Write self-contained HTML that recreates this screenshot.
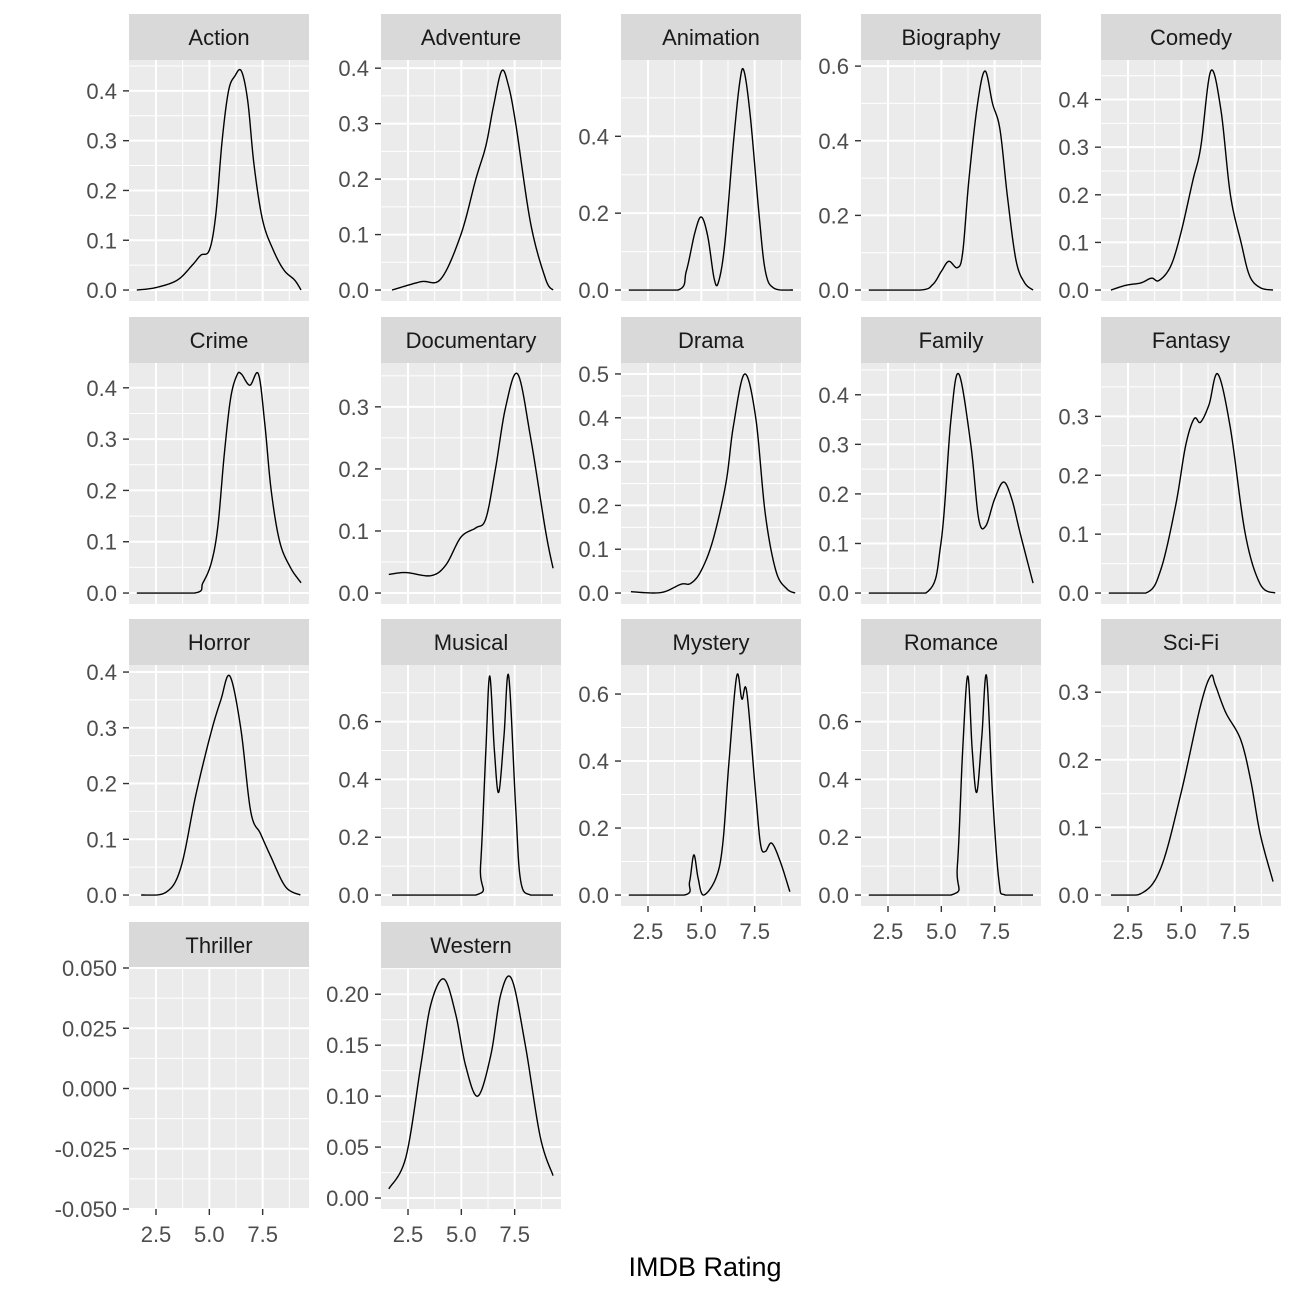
<!DOCTYPE html>
<html><head><meta charset="utf-8"><style>
html,body{margin:0;padding:0;background:#fff;}
svg{display:block;font-family:"Liberation Sans",Arial,sans-serif;}
</style></head><body>
<svg id="chart" width="1296" height="1296" viewBox="0 0 1296 1296" xmlns="http://www.w3.org/2000/svg">
<rect x="0" y="0" width="1296" height="1296" fill="#fff"/>
<text x="705" y="1276" font-size="27" fill="#000" text-anchor="middle">IMDB Rating</text>
</svg>
<script>
const genres = ["Action","Adventure","Animation","Biography","Comedy","Crime","Documentary","Drama","Family","Fantasy","Horror","Musical","Mystery","Romance","Sci-Fi","Thriller","Western"];
const actionX=[1.6,2.5,3.5,4.2,4.6,5.0,5.3,5.6,5.9,6.2,6.5,6.8,7.1,7.5,8.0,8.5,9.0,9.3];
const actionY=[0,0.005,0.02,0.05,0.07,0.08,0.15,0.3,0.4,0.43,0.44,0.38,0.25,0.14,0.08,0.04,0.02,0];
const adventureX=[1.75,3.1,4.04,4.98,5.68,6.15,6.5,6.89,7.2,7.55,8.25,8.95,9.3];
const adventureY=[0,0.015,0.02,0.1,0.2,0.26,0.33,0.395,0.37,0.3,0.12,0.02,0];
const animationX=[1.6,3.9,4.3,4.7,5.0,5.3,5.6,5.8,6.1,6.5,6.8,7.0,7.3,7.7,8.0,8.4,9.3];
const animationY=[0,0,0.05,0.15,0.19,0.14,0.03,0.02,0.12,0.38,0.54,0.57,0.45,0.2,0.05,0.005,0];
const biographyX=[1.6,4.0,4.6,5.0,5.35,5.75,6.0,6.3,6.7,7.05,7.4,7.75,8.1,8.5,8.9,9.3];
const biographyY=[0,0,0.015,0.05,0.077,0.06,0.1,0.3,0.5,0.587,0.5,0.43,0.25,0.08,0.02,0];
const comedyX=[1.7,2.4,3.1,3.6,3.95,4.5,4.98,5.54,5.91,6.38,6.85,7.3,7.8,8.2,8.7,9.3];
const comedyY=[0,0.01,0.015,0.025,0.02,0.05,0.12,0.23,0.3,0.46,0.38,0.2,0.1,0.03,0.005,0];
const crimeX=[1.6,4.3,4.7,5.1,5.4,5.7,6.0,6.3,6.5,6.9,7.3,7.6,7.9,8.3,8.8,9.3];
const crimeY=[0,0,0.02,0.06,0.13,0.27,0.38,0.425,0.427,0.405,0.427,0.33,0.2,0.1,0.05,0.02];
const documentaryX=[1.6,2.4,3.57,4.27,4.98,5.68,6.15,6.6,7.08,7.64,8.25,8.95,9.3];
const documentaryY=[0.03,0.033,0.028,0.045,0.09,0.105,0.12,0.2,0.3,0.353,0.25,0.1,0.04];
const dramaX=[1.7,3.1,4.04,4.5,4.98,5.54,6.15,6.5,7.03,7.55,8.0,8.5,9.0,9.4];
const dramaY=[0.003,0.001,0.02,0.022,0.05,0.12,0.25,0.38,0.5,0.4,0.18,0.05,0.01,0];
const familyX=[1.6,4.27,4.98,5.45,5.82,6.38,6.75,7.08,7.5,7.92,8.3,8.7,9.3];
const familyY=[0,0,0.1,0.35,0.442,0.3,0.15,0.135,0.19,0.224,0.19,0.12,0.02];
const fantasyX=[1.6,3.34,4.04,4.74,5.2,5.6,5.9,6.3,6.71,7.3,8.0,8.7,9.4];
const fantasyY=[0,0,0.04,0.15,0.25,0.296,0.29,0.32,0.372,0.28,0.1,0.015,0];
const horrorX=[1.8,2.97,3.67,4.37,5.07,5.54,5.96,6.47,6.94,7.4,7.87,8.57,9.27];
const horrorY=[0,0.005,0.05,0.18,0.29,0.35,0.393,0.3,0.15,0.11,0.07,0.015,0];
const musicalX=[1.75,5.68,5.9,6.15,6.33,6.55,6.75,7.0,7.22,7.55,7.78,8.25,9.3];
const musicalY=[0,0,0.1,0.5,0.758,0.5,0.355,0.55,0.758,0.3,0.05,0,0];
const mysteryX=[1.6,4.2,4.45,4.65,4.85,5.1,5.68,6.0,6.3,6.66,6.9,7.13,7.55,7.78,8.0,8.3,8.7,9.15];
const mysteryY=[0,0,0.04,0.12,0.05,0.0,0.05,0.15,0.4,0.654,0.585,0.606,0.3,0.15,0.13,0.155,0.1,0.01];
const romanceX=[1.6,5.45,5.75,6.0,6.24,6.45,6.66,6.9,7.12,7.4,7.7,8.0,9.3];
const romanceY=[0,0,0.1,0.5,0.758,0.5,0.355,0.55,0.758,0.35,0.05,0,0];
const scifiX=[1.7,3.1,4.04,4.98,5.9,6.38,6.6,7.08,7.78,8.25,8.7,9.3];
const scifiY=[0,0.002,0.04,0.15,0.28,0.324,0.31,0.27,0.23,0.17,0.09,0.02];
const thrillerX=[];
const thrillerY=[];
const westernX=[1.6,2.4,3.1,3.57,4.18,4.74,5.2,5.77,6.38,6.85,7.36,8.0,8.7,9.3];
const westernY=[0.009,0.04,0.13,0.19,0.215,0.18,0.13,0.10,0.14,0.2,0.215,0.15,0.06,0.022];
const seriesX=[actionX,adventureX,animationX,biographyX,comedyX,crimeX,documentaryX,dramaX,familyX,fantasyX,horrorX,musicalX,mysteryX,romanceX,scifiX,thrillerX,westernX];
const seriesY=[actionY,adventureY,animationY,biographyY,comedyY,crimeY,documentaryY,dramaY,familyY,fantasyY,horrorY,musicalY,mysteryY,romanceY,scifiY,thrillerY,westernY];
const yTicks=[[0,0.1,0.2,0.3,0.4],[0,0.1,0.2,0.3,0.4],[0,0.2,0.4],[0,0.2,0.4,0.6],[0,0.1,0.2,0.3,0.4],
 [0,0.1,0.2,0.3,0.4],[0,0.1,0.2,0.3],[0,0.1,0.2,0.3,0.4,0.5],[0,0.1,0.2,0.3,0.4],[0,0.1,0.2,0.3],
 [0,0.1,0.2,0.3,0.4],[0,0.2,0.4,0.6],[0,0.2,0.4,0.6],[0,0.2,0.4,0.6],[0,0.1,0.2,0.3],
 [-0.05,-0.025,0,0.025,0.05],[0,0.05,0.1,0.15,0.2]];
const yDecimals=[1,1,1,1,1,1,1,1,1,1,1,1,1,1,1,3,2];
const xTicks=[2.5,5.0,7.5];
const xTickLabels=["2.5","5.0","7.5"];
const xMinor=[3.75,6.25,8.75];

const NS="http://www.w3.org/2000/svg";
const svg=document.getElementById('chart');
const colLeft=[129,381,621,861,1101];
const rowTop=[60,363,665,968];
const PW=180, PH=241, STRIP=46;
const XMIN=1.234, XMAX=XMIN+PW/21.33;
function mk(tag,attrs,parent){const e=document.createElementNS(NS,tag);for(const k in attrs)e.setAttribute(k,attrs[k]);(parent||svg).appendChild(e);return e;}
function smooth(xs,ys){
  const out=[];
  const n=xs.length;
  for(let i=0;i<n-1;i++){
    const i0=Math.max(0,i-1),i3=Math.min(n-1,i+2);
    for(let s=0;s<12;s++){
      const t=s/12,t2=t*t,t3=t2*t;
      const f=(a,b,c,d)=>0.5*((2*b)+(-a+c)*t+(2*a-5*b+4*c-d)*t2+(-a+3*b-3*c+d)*t3);
      out.push([f(xs[i0],xs[i],xs[i+1],xs[i3]),Math.max(0,f(ys[i0],ys[i],ys[i+1],ys[i3]))]);
    }
  }
  out.push([xs[n-1],ys[n-1]]);
  return out;
}
const slug=s=>s.toLowerCase().replace(/[^a-z]/g,'');
genres.forEach((g,i)=>{
  const col=i%5,row=Math.floor(i/5);
  const L=colLeft[col],T=rowTop[row];
  const grp=mk('g',{});
  
  
  const ys=seriesY[i],xs=seriesX[i];
  let ymin,ymax;
  if(ys.length){const m=Math.max(...ys);ymin=-0.05*m;ymax=1.05*m;}else{ymin=-0.05;ymax=0.05;}
  const sx=v=>L+(v-XMIN)/(XMAX-XMIN)*PW;
  const sy=v=>T+PH-(v-ymin)/(ymax-ymin)*PH;
  const st=mk('rect',{x:L,y:T-STRIP,width:PW,height:STRIP,fill:'#d9d9d9'},grp);
  
  
  const stt=mk('text',{x:L+PW/2,y:T-STRIP/2+8,'font-size':22,fill:'#1a1a1a','text-anchor':'middle'},grp);
  stt.textContent=g;
  
  
  const bg=mk('rect',{x:L,y:T,width:PW,height:PH,fill:'#ebebeb'},grp);
  
  
  const tk=yTicks[i];
  const step=tk[1]-tk[0];
  for(let k=-1;k<tk.length;k++){
    const v=tk[0]+step*(k+0.5);const y=sy(v);
    if(y>T&&y<T+PH) mk('line',{x1:L,x2:L+PW,y1:y,y2:y,stroke:'#fff','stroke-width':1},grp);
  }
  xMinor.forEach(v=>{const x=sx(v);if(x>L&&x<L+PW)mk('line',{x1:x,x2:x,y1:T,y2:T+PH,stroke:'#fff','stroke-width':1},grp);});
  tk.forEach(v=>{const y=sy(v);mk('line',{x1:L,x2:L+PW,y1:y,y2:y,stroke:'#fff','stroke-width':2},grp);});
  xTicks.forEach(v=>{const x=sx(v);mk('line',{x1:x,x2:x,y1:T,y2:T+PH,stroke:'#fff','stroke-width':2},grp);});
  tk.forEach(v=>{
    const y=sy(v);
    mk('line',{x1:L-6,x2:L,y1:y,y2:y,stroke:'#333','stroke-width':1.4},grp);
    const t=mk('text',{x:L-12,y:y+8,'font-size':22,fill:'#4d4d4d','text-anchor':'end'},grp);
    t.textContent=v.toFixed(yDecimals[i]);
    
    
  });
  const bottom = (row===3) || (row===2 && col>=2);
  if(bottom){
    xTicks.forEach((v,k)=>{
      const x=sx(v);
      mk('line',{x1:x,x2:x,y1:T+PH,y2:T+PH+6,stroke:'#333','stroke-width':1.4},grp);
      const t=mk('text',{x:x,y:T+PH+33,'font-size':22,fill:'#4d4d4d','text-anchor':'middle'},grp);
      t.textContent=xTickLabels[k];
      
      
    });
  }
  if(xs.length){
    const pts=smooth(xs,ys).map(p=>[sx(p[0]),sy(p[1])]);
    const d="M"+pts.map(p=>p[0].toFixed(2)+","+p[1].toFixed(2)).join(" L");
    const p=mk('path',{d:d,fill:'none',stroke:'#000','stroke-width':1.4,'stroke-linejoin':'round'},grp);
    
    
  }
});
</script>
</body></html>
